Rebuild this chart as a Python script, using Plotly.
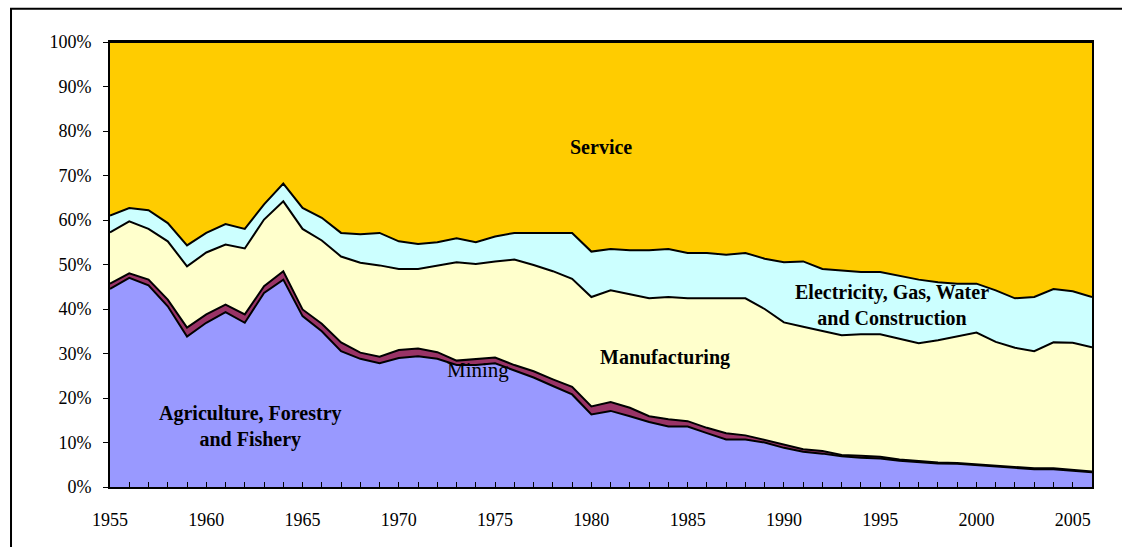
import plotly.graph_objects as go

years = list(range(1955, 2007))

agriculture = [44.5, 47.0, 45.3, 40.6, 33.8, 36.9, 39.3, 36.9, 43.6, 46.6,
               38.4, 35.0, 30.5, 28.8, 27.8, 29.0, 29.4, 28.8, 27.4, 27.4,
               27.8, 26.2, 24.6, 22.7, 20.8, 16.3, 17.1, 15.9, 14.6, 13.6,
               13.6, 12.1, 10.7, 10.7, 10.0, 8.8, 7.9, 7.5, 6.9, 6.6,
               6.4, 5.9, 5.6, 5.3, 5.2, 4.9, 4.6, 4.3, 4.0, 4.0,
               3.7, 3.3]
mining = [1.2, 1.0, 1.3, 1.5, 2.0, 1.9, 1.7, 1.9, 1.5, 1.9,
          1.5, 1.7, 2.0, 1.4, 1.5, 1.8, 1.7, 1.5, 1.0, 1.3,
          1.3, 1.2, 1.4, 1.5, 1.7, 1.8, 2.0, 1.9, 1.3, 1.6,
          1.2, 1.2, 1.4, 0.9, 0.6, 0.8, 0.6, 0.6, 0.3, 0.4,
          0.4, 0.3, 0.2, 0.2, 0.2, 0.2, 0.2, 0.2, 0.2, 0.2,
          0.2, 0.2]
manufacturing = [11.5, 11.7, 11.4, 13.1, 13.8, 13.9, 13.5, 14.8, 15.0, 15.7,
                 18.1, 18.7, 19.3, 20.2, 20.5, 18.2, 17.9, 19.5, 22.1, 21.4,
                 21.6, 23.7, 23.9, 24.3, 24.3, 24.6, 25.1, 25.5, 26.5, 27.5,
                 27.6, 29.1, 30.3, 30.8, 29.4, 27.4, 27.5, 26.9, 26.9, 27.3,
                 27.5, 27.1, 26.5, 27.5, 28.4, 29.6, 27.8, 26.8, 26.3, 28.3,
                 28.5, 27.9]
electricity = [3.8, 3.0, 4.2, 4.1, 4.7, 4.4, 4.6, 4.4, 3.4, 4.0,
               4.7, 5.1, 5.3, 6.4, 7.3, 6.2, 5.6, 5.2, 5.4, 4.9,
               5.6, 6.0, 7.2, 8.6, 10.3, 10.2, 9.3, 9.9, 10.8, 10.8,
               10.2, 10.2, 9.8, 10.2, 11.3, 13.5, 14.7, 14.0, 14.5, 14.0,
               14.0, 14.1, 14.3, 13.0, 11.9, 11.0, 11.6, 11.1, 12.2, 12.0,
               11.6, 11.3]
service = [39.0, 37.3, 37.8, 40.7, 45.7, 42.9, 40.9, 42.0, 36.5, 31.8,
           37.3, 39.5, 42.9, 43.2, 42.9, 44.8, 45.4, 45.0, 44.1, 45.0,
           43.7, 42.9, 42.9, 42.9, 42.9, 47.1, 46.5, 46.8, 46.8, 46.5,
           47.4, 47.4, 47.8, 47.4, 48.7, 49.5, 49.3, 51.0, 51.4, 51.7,
           51.7, 52.6, 53.4, 54.0, 54.3, 54.3, 55.8, 57.6, 57.3, 55.5,
           56.0, 57.3]

series = [
    ("Agriculture, Forestry and Fishery", agriculture, "#9999FF"),
    ("Mining", mining, "#993366"),
    ("Manufacturing", manufacturing, "#FFFFCC"),
    ("Electricity, Gas, Water and Construction", electricity, "#CCFFFF"),
    ("Service", service, "#FFCC00"),
]

fig = go.Figure()
for name, vals, col in series:
    fig.add_trace(go.Scatter(
        x=years, y=vals, name=name, mode="lines", stackgroup="one",
        line=dict(color="black", width=2), fillcolor=col,
    ))

serif = "Liberation Serif"
labels = [
    (1980.5, 76.3, "<b>Service</b>", 20),
    (1962.3, 13.6, "<b>Agriculture, Forestry<br>and Fishery</b>", 20),
    (1974.1, 26.4, "Mining", 21),
    (1983.8, 29.1, "<b>Manufacturing</b>", 20),
    (1995.6, 40.9, "<b>Electricity, Gas, Water<br>and Construction</b>", 20),
]
for x, y, t, s in labels:
    fig.add_annotation(x=x, y=y, text=t, showarrow=False,
                       font=dict(family=serif, size=s, color="black"))

fig.add_shape(type="rect", xref="paper", yref="paper",
              x0=-0.1008, x1=1.1, y0=-0.3, y1=1.0748,
              line=dict(color="black", width=2), fillcolor="rgba(0,0,0,0)")

fig.update_layout(
    width=1122, height=547,
    margin=dict(l=110, r=30, t=42, b=60),
    paper_bgcolor="white", plot_bgcolor="white",
    showlegend=False,
    font=dict(family=serif, size=18, color="black"),
)
fig.update_xaxes(
    range=[1955, 2006], tickmode="linear", tick0=1955, dtick=5,
    ticks="inside", ticklen=5, tickcolor="black", tickwidth=1,
    minor=dict(dtick=1, ticks="inside", ticklen=5, tickcolor="black", tickwidth=1),
    showline=True, linecolor="black", linewidth=2, mirror=True,
    showgrid=False, zeroline=False, ticklabelstandoff=15,
    tickfont=dict(family=serif, size=18, color="black"),
)
fig.update_yaxes(
    range=[0, 100], tickmode="linear", tick0=0, dtick=10, ticksuffix="%",
    ticks="outside", ticklen=5, tickcolor="black", tickwidth=1,
    showline=True, linecolor="black", linewidth=2, mirror=True,
    showgrid=False, zeroline=False, ticklabelstandoff=8,
    tickfont=dict(family=serif, size=18, color="black"),
)

fig.write_html(
    "out.html",
    config={"displayModeBar": False},
    post_script="document.body.style.margin='0';document.body.style.overflow='hidden';",
)
